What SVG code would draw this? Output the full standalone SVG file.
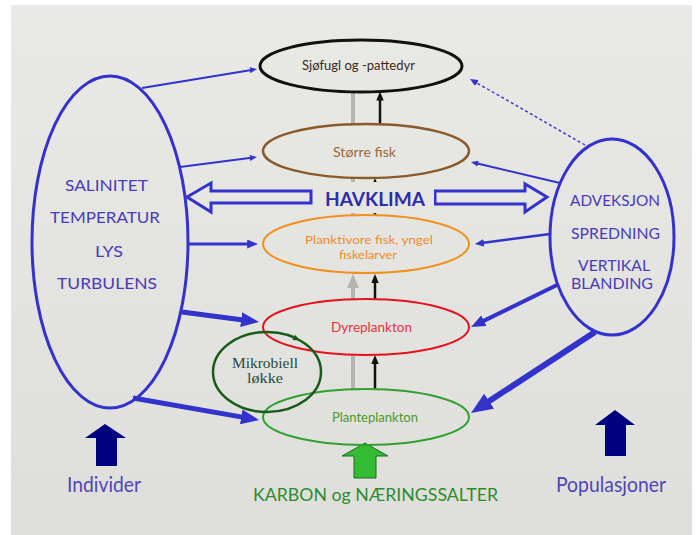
<svg xmlns="http://www.w3.org/2000/svg" width="697" height="535" viewBox="0 0 697 535">
<defs>
<linearGradient id="bg" x1="0" y1="0" x2="0" y2="1">
<stop offset="0" stop-color="#e9e9e5"/>
<stop offset="1" stop-color="#dedfdb"/>
</linearGradient>
<marker id="mb" markerUnits="strokeWidth" markerWidth="3.6" markerHeight="3" refX="0.8" refY="1.5" orient="auto"><path d="M0,0 L3.6,1.5 L0,3 z" fill="#3333cc"/></marker>
<marker id="mbs" markerUnits="userSpaceOnUse" markerWidth="9" markerHeight="7" refX="2" refY="3.5" orient="auto"><path d="M0,0 L8,3.5 L0,7 z" fill="#3333cc"/></marker>
<marker id="mk" markerUnits="strokeWidth" markerWidth="3.6" markerHeight="3" refX="0.8" refY="1.5" orient="auto"><path d="M0,0 L3.6,1.5 L0,3 z" fill="#111"/></marker>
<marker id="mg" markerUnits="strokeWidth" markerWidth="3.6" markerHeight="3" refX="0.8" refY="1.5" orient="auto"><path d="M0,0 L3.6,1.5 L0,3 z" fill="#b4b4b4"/></marker>
<style>
.sans{font-family:Lato,"Liberation Sans",Arial,sans-serif}
.serif{font-family:"Liberation Serif","Times New Roman",serif}
.big{fill:none;stroke:#3333cc;stroke-width:3}
.bt{fill:#4a3cb8;font-size:16px}
.blue{stroke:#3333cc;fill:none}
.grey{stroke:#b4b4b4;stroke-width:4;fill:none}
.blk{stroke:#111;stroke-width:2.5;fill:none}
.hollow{fill:#e6e6e2;stroke:#3333cc;stroke-width:3;stroke-linejoin:miter}
.nav{fill:#000080}
.nt{font-size:13px;text-anchor:middle}
</style>
</defs>
<rect x="0" y="0" width="697" height="535" fill="#ffffff"/>
<rect x="11" y="5" width="681" height="530" fill="url(#bg)"/>

<g id="connectors">
<line class="blue" stroke-width="2" x1="142" y1="88" x2="251.5" y2="69.9" marker-end="url(#mb)"/>
<line class="blue" stroke-width="2" x1="180" y1="167" x2="251.4" y2="157.7" marker-end="url(#mb)"/>
<line class="blue" stroke-width="3" x1="187" y1="244" x2="249.6" y2="244" marker-end="url(#mb)"/>
<line class="blue" stroke-width="5" x1="182" y1="312" x2="245.1" y2="320.2" marker-end="url(#mb)"/>
<line class="blue" stroke-width="5" x1="133" y1="398" x2="245.2" y2="417.6" marker-end="url(#mb)"/>
<line class="blue" stroke-width="1.4" stroke-dasharray="3,2.5" x1="585" y1="145" x2="475.2" y2="82" marker-end="url(#mbs)"/>
<line class="blue" stroke-width="2" x1="560" y1="183" x2="476.5" y2="163.3" marker-end="url(#mb)"/>
<line class="blue" stroke-width="2.5" x1="550" y1="234" x2="481.9" y2="243.1" marker-end="url(#mb)"/>
<line class="blue" stroke-width="4" x1="557" y1="285" x2="481.1" y2="322.1" marker-end="url(#mb)"/>
<line class="blue" stroke-width="6" x1="595" y1="332" x2="485.1" y2="403.8" marker-end="url(#mb)"/>
<line class="grey" x1="353" y1="124" x2="353" y2="92"/>
<line class="blk" x1="380" y1="124" x2="380" y2="98.5" marker-end="url(#mk)"/>
<line class="grey" x1="353" y1="215" x2="353" y2="178"/>
<line class="blk" x1="375" y1="215" x2="375" y2="185" marker-end="url(#mk)"/>
<line class="grey" x1="353" y1="300" x2="353" y2="285" marker-end="url(#mg)"/>
<line class="blk" x1="375" y1="300" x2="375" y2="281" marker-end="url(#mk)"/>
<line class="grey" x1="353" y1="390" x2="353" y2="355"/>
<line class="blk" x1="375" y1="390" x2="375" y2="362" marker-end="url(#mk)"/>
<polygon class="hollow" points="187,197 211,183 211,191 311,191 311,203 211,203 211,212"/>
<polygon class="hollow" points="547,197 525,184 525,191 435,191 435,204 525,204 525,212"/>
<polygon class="nav" points="105,424 126,438 117,438 117,466 96,466 96,438 85,438"/>
<polygon class="nav" points="615,410 635,425 626,425 626,456 605,456 605,425 595,425"/>
<polygon fill="#33bb33" stroke="#1f6a1f" stroke-width="1" points="365,443 388,456 376,456 376,478 354,478 354,456 342,456"/>
</g>

<g id="havklima">
<rect x="313" y="182" width="121" height="31" fill="#e6e6e2"/>
<text class="sans" x="375" y="206" font-size="18" font-weight="bold" fill="#2d2daa" text-anchor="middle" textLength="100" lengthAdjust="spacingAndGlyphs">HAVKLIMA</text>
</g>

<g id="individ-faktorer">
<ellipse class="big" cx="110" cy="242" rx="78" ry="166"/>
<text class="sans bt" x="106.5" y="191" text-anchor="middle" textLength="83" lengthAdjust="spacingAndGlyphs">SALINITET</text>
<text class="sans bt" x="105" y="223" text-anchor="middle" textLength="110" lengthAdjust="spacingAndGlyphs">TEMPERATUR</text>
<text class="sans bt" x="109" y="257" text-anchor="middle" textLength="28" lengthAdjust="spacingAndGlyphs">LYS</text>
<text class="sans bt" x="107" y="289" text-anchor="middle" textLength="100" lengthAdjust="spacingAndGlyphs">TURBULENS</text>
</g>

<g id="populasjon-faktorer">
<ellipse class="big" cx="612" cy="237" rx="62" ry="98"/>
<text class="sans bt" x="615" y="206" text-anchor="middle" textLength="90" lengthAdjust="spacingAndGlyphs">ADVEKSJON</text>
<text class="sans bt" x="615.5" y="239" text-anchor="middle" textLength="89" lengthAdjust="spacingAndGlyphs">SPREDNING</text>
<text class="sans" x="614" y="271" font-size="15" fill="#4a3cb8" text-anchor="middle" textLength="72" lengthAdjust="spacingAndGlyphs">VERTIKAL</text>
<text class="sans" x="612" y="289" font-size="15" fill="#4a3cb8" text-anchor="middle" textLength="82" lengthAdjust="spacingAndGlyphs">BLANDING</text>
</g>

<g id="sjofugl">
<ellipse cx="361" cy="66" rx="101" ry="26" fill="none" stroke="#111" stroke-width="3"/>
<text class="sans nt" x="358.5" y="70" fill="#3a2a1a" textLength="113" lengthAdjust="spacingAndGlyphs">Sjøfugl og -pattedyr</text>
</g>

<g id="storre-fisk">
<ellipse cx="366" cy="151" rx="103" ry="27" fill="none" stroke="#8b5a2b" stroke-width="2.5"/>
<text class="sans nt" x="364.5" y="157" fill="#9a6a3a" textLength="63" lengthAdjust="spacingAndGlyphs">Større fisk</text>
</g>

<g id="planktivore">
<ellipse cx="366" cy="244" rx="103" ry="29" fill="none" stroke="#f0901e" stroke-width="2"/>
<text class="sans" x="369" y="244" font-size="12" fill="#f08a2a" text-anchor="middle" textLength="128" lengthAdjust="spacingAndGlyphs">Planktivore fisk, yngel</text>
<text class="sans" x="368" y="259" font-size="12" fill="#f08a2a" text-anchor="middle" textLength="58" lengthAdjust="spacingAndGlyphs">fiskelarver</text>
</g>

<g id="dyreplankton">
<ellipse cx="366" cy="327" rx="103" ry="28" fill="none" stroke="#e8101e" stroke-width="2"/>
<text class="sans nt" x="371.5" y="332" fill="#e8303c" textLength="81" lengthAdjust="spacingAndGlyphs">Dyreplankton</text>
</g>

<g id="planteplankton">
<ellipse cx="366" cy="417" rx="103" ry="28" fill="none" stroke="#30a030" stroke-width="2"/>
<text class="sans nt" x="375" y="422" fill="#4a9a2a" textLength="86" lengthAdjust="spacingAndGlyphs">Planteplankton</text>
</g>

<g id="mikrobiell-lokke">
<ellipse cx="267" cy="372" rx="54" ry="40" fill="none" stroke="#1a5a1a" stroke-width="2.5"/>
<polygon points="300,340.5 295,334.7 292.4,340.1" fill="#1a5a1a"/>
<text class="serif" x="265" y="368" font-size="14" fill="#2a4a3a" text-anchor="middle" textLength="66" lengthAdjust="spacingAndGlyphs">Mikrobiell</text>
<text class="serif" x="265" y="383" font-size="14" fill="#2a4a3a" text-anchor="middle" textLength="36" lengthAdjust="spacingAndGlyphs">løkke</text>
</g>

<g id="labels">
<text class="sans" x="104" y="492" font-size="21" fill="#5046b8" text-anchor="middle" textLength="74" lengthAdjust="spacingAndGlyphs">Individer</text>
<text class="sans" x="375.5" y="501" font-size="18" fill="#2e8b2e" text-anchor="middle" textLength="245" lengthAdjust="spacingAndGlyphs">KARBON og NÆRINGSSALTER</text>
<text class="sans" x="611" y="492" font-size="21" fill="#5046b8" text-anchor="middle" textLength="110" lengthAdjust="spacingAndGlyphs">Populasjoner</text>
</g>
</svg>
